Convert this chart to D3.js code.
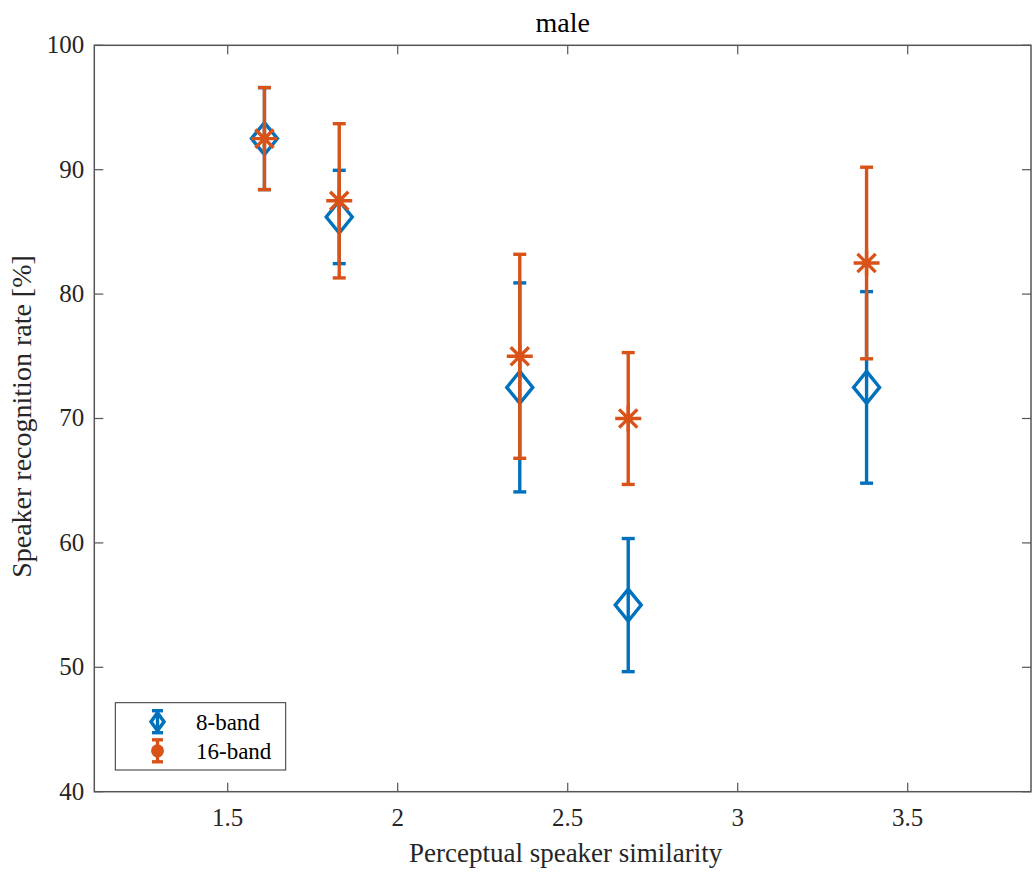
<!DOCTYPE html>
<html>
<head>
<meta charset="utf-8">
<script src="https://cdn.jsdelivr.net/npm/d3@7"></script>
<style>
  body { margin: 0; background: #fff; }
  svg { display: block; font-family: "Liberation Serif", "Times New Roman", serif; }
</style>
</head>
<body>
<div id="chart"></div>
<script>
// values
var similarity = [1.608, 1.828, 2.359, 2.678, 3.379];
var band8 = [92.5, 86.2, 72.5, 55.0, 72.5];
var band8err = [4.1, 3.75, 8.4, 5.35, 7.7];
var band16 = [92.5, 87.5, 75.0, 70.0, 82.5];
var band16err = [4.1, 6.2, 8.2, 5.3, 7.7];
var xTicks = [1.5, 2, 2.5, 3, 3.5];
var yTicks = [40, 50, 60, 70, 80, 90, 100];
var seriesNames = ["8-band", "16-band"];

var blue = "#0072BD", orange = "#D95319", axisCol = "#262626";

var W = 1032, H = 873;
var margin = {top: 45.3, right: 1, bottom: 81.3, left: 94.3};
var width = W - margin.left - margin.right,
    height = H - margin.top - margin.bottom;

var svg = d3.select("#chart").append("svg")
    .attr("width", W)
    .attr("height", H);

var g = svg.append("g")
    .attr("transform", "translate(" + margin.left + "," + margin.top + ")");

var x = d3.scaleLinear().domain([1.1076, 3.8626]).range([0, width]);
var y = d3.scaleLinear().domain([40, 100]).range([height, 0]);

// ticks inside, on all four sides (box on)
var tickLen = 9;
var ax = g.append("g").attr("stroke", "#555").attr("stroke-width", 1.2);
xTicks.forEach(function(t) {
    ax.append("line").attr("x1", x(t)).attr("x2", x(t)).attr("y1", height).attr("y2", height - tickLen);
    ax.append("line").attr("x1", x(t)).attr("x2", x(t)).attr("y1", 0).attr("y2", tickLen);
});
yTicks.forEach(function(t) {
    ax.append("line").attr("x1", 0).attr("x2", tickLen).attr("y1", y(t)).attr("y2", y(t));
    ax.append("line").attr("x1", width).attr("x2", width - tickLen).attr("y1", y(t)).attr("y2", y(t));
});
g.append("rect")
    .attr("x", 0).attr("y", 0).attr("width", width).attr("height", height)
    .attr("fill", "none").attr("stroke", "#555").attr("stroke-width", 1.5);

// tick labels
g.append("g").selectAll("text").data(xTicks).join("text")
    .attr("x", function(d) { return x(d); })
    .attr("y", height + 34)
    .attr("text-anchor", "middle")
    .attr("fill", axisCol)
    .style("font-size", "25px")
    .text(function(d) { return d; });

g.append("g").selectAll("text").data(yTicks).join("text")
    .attr("x", -10)
    .attr("y", function(d) { return y(d) + 8; })
    .attr("text-anchor", "end")
    .attr("fill", axisCol)
    .style("font-size", "25px")
    .text(function(d) { return d; });

// labels + title
svg.append("text")
    .attr("x", margin.left + width / 2).attr("y", 31.5)
    .attr("text-anchor", "middle").attr("fill", "#000")
    .style("font-size", "28px").text("male");
svg.append("text")
    .attr("x", margin.left + width / 2 + 3).attr("y", 862)
    .attr("text-anchor", "middle").attr("fill", axisCol)
    .style("font-size", "27px").text("Perceptual speaker similarity");
svg.append("text")
    .attr("transform", "translate(31,416.5) rotate(-90)")
    .attr("text-anchor", "middle").attr("fill", axisCol)
    .style("font-size", "28px").text("Speaker recognition rate [%]");

// error bars
var capW = 6.5;
function errorBars(vals, errs, color) {
    var eg = g.append("g").attr("stroke", color).attr("stroke-width", 3.4).attr("fill", "none");
    vals.forEach(function(v, i) {
        var cx = x(similarity[i]);
        eg.append("line").attr("x1", cx).attr("x2", cx).attr("y1", y(v - errs[i])).attr("y2", y(v + errs[i]));
        eg.append("line").attr("x1", cx - capW).attr("x2", cx + capW).attr("y1", y(v - errs[i])).attr("y2", y(v - errs[i]));
        eg.append("line").attr("x1", cx - capW).attr("x2", cx + capW).attr("y1", y(v + errs[i])).attr("y2", y(v + errs[i]));
    });
    return eg;
}

function diamondPath(hw, hh) {
    return "M0," + (-hh) + "L" + hw + ",0L0," + hh + "L" + (-hw) + ",0Z";
}
function starPath(r) {
    var d = r * 0.7;
    return "M" + (-r) + ",0H" + r + "M0," + (-r) + "V" + r +
        "M" + (-d) + "," + (-d) + "L" + d + "," + d +
        "M" + (-d) + "," + d + "L" + d + "," + (-d);
}

errorBars(band8, band8err, blue);
g.append("g").selectAll("path").data(band8).join("path")
    .attr("transform", function(d, i) { return "translate(" + x(similarity[i]) + "," + y(d) + ")"; })
    .attr("d", diamondPath(13, 16))
    .attr("fill", "none").attr("stroke", blue).attr("stroke-width", 3.4);

errorBars(band16, band16err, orange);
g.append("g").selectAll("path").data(band16).join("path")
    .attr("transform", function(d, i) { return "translate(" + x(similarity[i]) + "," + y(d) + ")"; })
    .attr("d", starPath(13))
    .attr("fill", "none").attr("stroke", orange).attr("stroke-width", 3.4);

// legend
var lg = svg.append("g");
lg.append("rect")
    .attr("x", 115.3).attr("y", 702.7).attr("width", 170.4).attr("height", 67.3)
    .attr("fill", "#fff").attr("stroke", "#333").attr("stroke-width", 1);

var legendRows = [
    {name: seriesNames[0], color: blue, cy: 721.7},
    {name: seriesNames[1], color: orange, cy: 750.8}
];
legendRows.forEach(function(r, i) {
    var cx = 157.5;
    lg.append("line").attr("x1", cx).attr("x2", cx).attr("y1", r.cy - 11).attr("y2", r.cy + 11)
        .attr("stroke", r.color).attr("stroke-width", 3.4);
    [r.cy - 11, r.cy + 11].forEach(function(yy) {
        lg.append("line").attr("x1", cx - 5.5).attr("x2", cx + 5.5).attr("y1", yy).attr("y2", yy)
            .attr("stroke", r.color).attr("stroke-width", 3.4);
    });
    if (i === 0) {
        lg.append("path").attr("transform", "translate(" + cx + "," + r.cy + ")")
            .attr("d", diamondPath(6.5, 9)).attr("fill", "none")
            .attr("stroke", r.color).attr("stroke-width", 3.5);
    } else {
        lg.append("circle").attr("cx", cx).attr("cy", r.cy).attr("r", 6.5).attr("fill", r.color);
    }
    lg.append("text").attr("x", 196).attr("y", r.cy + 7.8)
        .attr("fill", "#000").style("font-size", "23px").text(r.name);
});
</script>
</body>
</html>
